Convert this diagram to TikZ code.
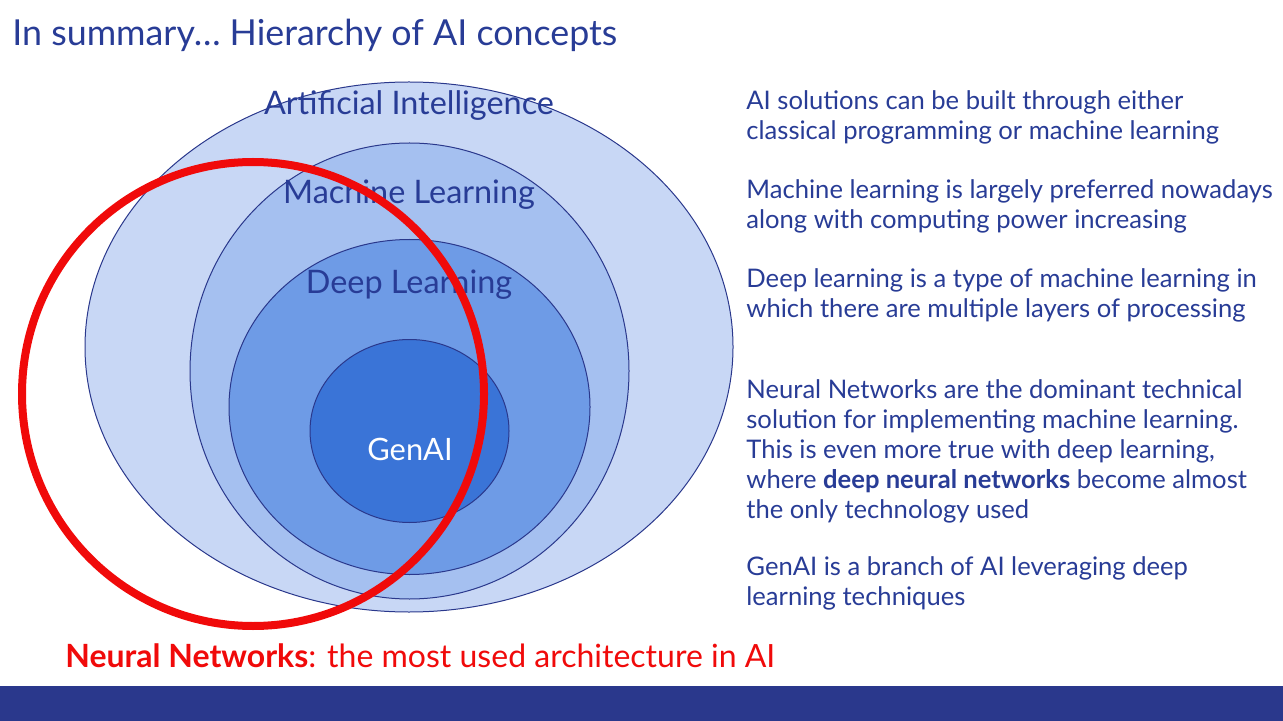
\documentclass[tikz,border=0pt]{standalone}
\usepackage{fontspec}
\setmainfont{Lato}
\usetikzlibrary{positioning}
\definecolor{navy}{RGB}{42,56,140}
\definecolor{titleblue}{RGB}{40,60,150}
\definecolor{aicol}{RGB}{200,215,245}
\definecolor{mlcol}{RGB}{165,192,240}
\definecolor{dlcol}{RGB}{110,155,230}
\definecolor{gencol}{RGB}{58,116,215}
\definecolor{nnred}{RGB}{240,10,10}
\begin{document}
\begin{tikzpicture}[
    x=0.5pt, y=-0.5pt,
    layer/.style={draw=navy, line width=0.5pt},
    label/.style={font=\fontsize{16.2}{18}\selectfont, text=titleblue},
    note/.style={font=\fontsize{12.8}{15}\selectfont, text=titleblue, align=left, anchor=north west, inner sep=0pt}
]
    \useasboundingbox (0,0) rectangle (1283,721);
    \fill[navy] (0,686) rectangle (1283,721);

    % Title
    \node[anchor=west, inner sep=0pt, text=titleblue, font=\fontsize{17.9}{20}\selectfont] (title) at (12,35) {In summary\dots\ Hierarchy of AI concepts};

    % Nested layers
    \draw[layer, fill=aicol] (409,347) ellipse [x radius=324, y radius=265];
    \draw[layer, fill=mlcol] (409.5,371) ellipse [x radius=219.5, y radius=228];
    \draw[layer, fill=dlcol] (409.5,407) ellipse [x radius=180.5, y radius=167.5];
    \draw[layer, fill=gencol] (409.5,431) ellipse [x radius=99.5, y radius=91.5];

    \node[label] (ai) at (409,106) {Artificial Intelligence};
    \node[label] (ml) at (409,195) {Machine Learning};
    \node[label] (dl) at (409,285) {Deep Learning};
    \node[label, text=white, font=\fontsize{15.4}{17}\selectfont] (gen) at (410,449) {GenAI};

    % Neural networks
    \draw[nnred, line width=4pt] (253,394) ellipse [x radius=231, y radius=232];
    \node[anchor=west, inner sep=0pt, text=nnred, font=\fontsize{16}{18}\selectfont] (nn) at (65,656) {\textbf{Neural Networks}: the most used architecture in AI};

    % Notes
    \node[note] (n1) at (746,90) {AI solutions can be built through either\\classical programming or machine learning};
    \node[note] (n2) at (746,179) {Machine learning is largely preferred nowadays\\along with computing power increasing};
    \node[note] (n3) at (746,268) {Deep learning is a type of machine learning in\\which there are multiple layers of processing};
    \node[note] (n4) at (746,379) {Neural Networks are the dominant technical\\solution for implementing machine learning.\\This is even more true with deep learning,\\where \textbf{deep neural networks} become almost\\the only technology used};
    \node[note] (n5) at (746,556) {GenAI is a branch of AI leveraging deep\\learning techniques};
\end{tikzpicture}
\end{document}
